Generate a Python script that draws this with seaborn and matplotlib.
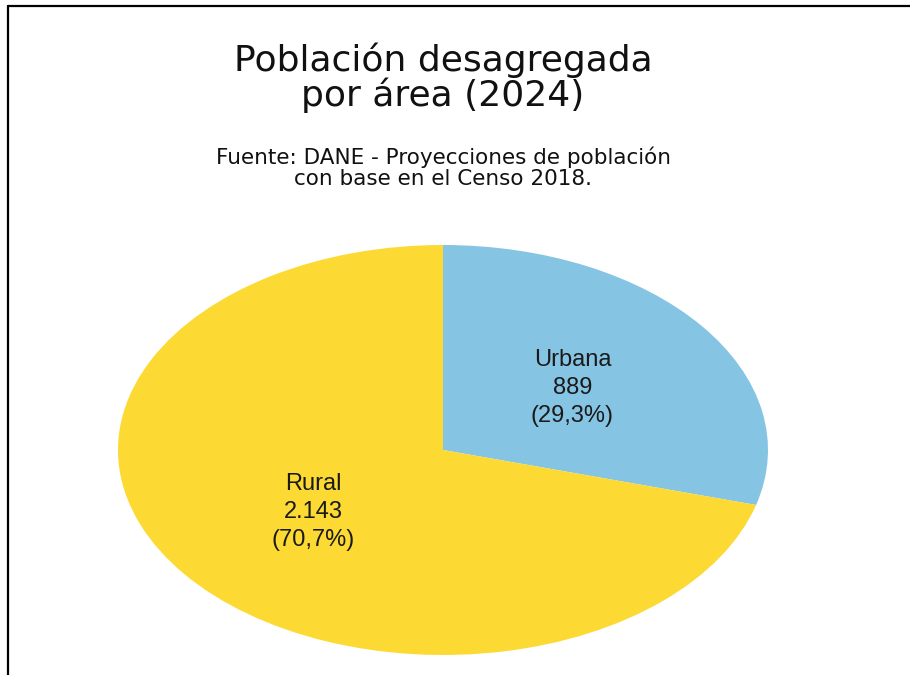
import numpy as np
import matplotlib.pyplot as plt
import seaborn as sns
from matplotlib.lines import Line2D

# Data
areas = ["Urbana", "Rural"]
poblacion = [889, 2143]
colores = ["#86C4E4", "#FCDA33"]

titulo = ["Población desagregada", "por área (2024)"]
subtitulo = ["Fuente: DANE - Proyecciones de población",
             "con base en el Censo 2018."]


def etiqueta(valor, total, nombre):
    pct = f"{valor / total * 100:.1f}".replace(".", ",")
    num = f"{valor:,}".replace(",", ".")
    return f"{nombre}\n{num}\n({pct}%)"


sns.set_style("white")
plt.rcParams['font.family'] = ['DejaVu Sans']

fig = plt.figure(figsize=(9.1, 6.75), dpi=100)
W, H = 910, 675

# pie area (elliptical, stretched horizontally like the reference)
ax = fig.add_axes([118 / W, 1 - 655 / H, 650 / W, 410 / H])
total = sum(poblacion)
wedges, _ = ax.pie(poblacion, colors=colores, startangle=90, counterclock=False,
                   wedgeprops=dict(linewidth=0))
ax.set_aspect('auto')
ax.set_xlim(-1, 1)
ax.set_ylim(-1, 1)
ax.axis('off')

for w, v, n in zip(wedges, poblacion, areas):
    ang = np.deg2rad((w.theta1 + w.theta2) / 2)
    ax.text(0.5 * np.cos(ang), 0.5 * np.sin(ang), etiqueta(v, total, n),
            ha='center', va='center', fontsize=17, family='Liberation Sans',
            color='#1a1a1a', linespacing=1.38, multialignment='center')

# titles (one text per line, baselines)
for linea, base in zip(titulo, [71, 106]):
    fig.text(443 / W, 1 - base / H, linea, ha='center', va='baseline',
             fontsize=26, color='#111111')
for linea, base in zip(subtitulo, [164, 185]):
    fig.text(443 / W, 1 - base / H, linea, ha='center', va='baseline',
             fontsize=15.5, color='#111111')

# frame (left and top edges)
fig.add_artist(Line2D([8 / W, 8 / W], [0, 1 - 6 / H], color='black', lw=1.6,
                      transform=fig.transFigure))
fig.add_artist(Line2D([8 / W, 1], [1 - 6 / H, 1 - 6 / H], color='black', lw=1.6,
                      transform=fig.transFigure))

plt.savefig('out.png', dpi=100)
plt.close()
